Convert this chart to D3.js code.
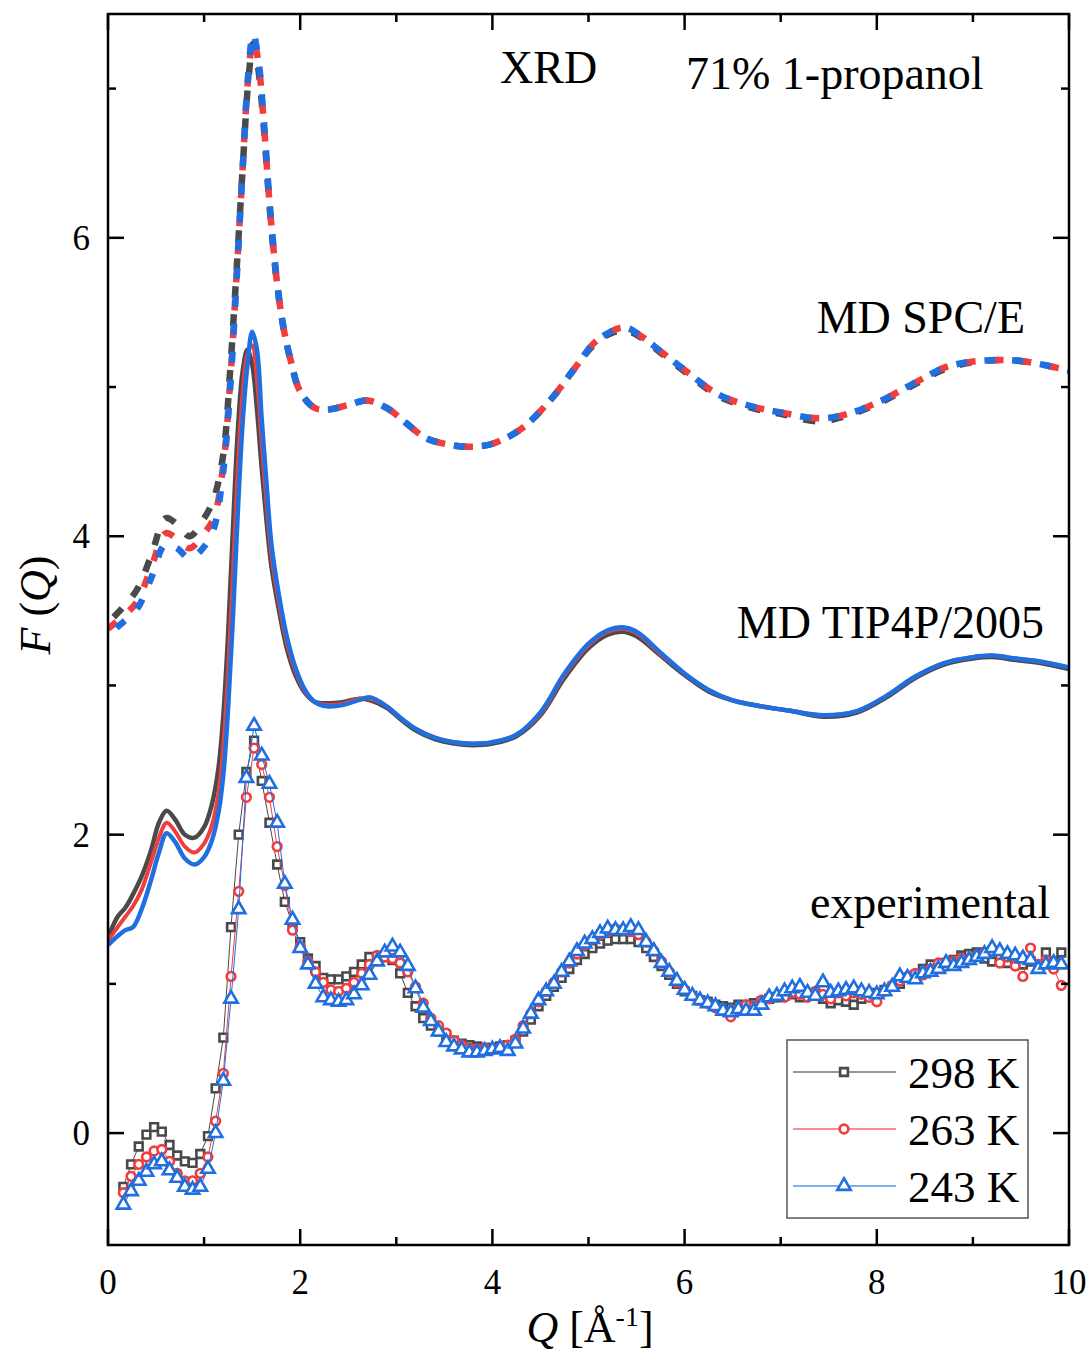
<!DOCTYPE html>
<html><head><meta charset="utf-8">
<script src="https://cdn.jsdelivr.net/npm/d3@7"></script>
<style>body{margin:0;background:#fff}svg{display:block}</style>
</head><body>
<svg id="chart" width="1092" height="1352"></svg>
<script>
// ---------- DATA ----------
const seriesNames = ["298 K", "263 K", "243 K"];
const seriesColors = ["#4a4a4a", "#f03e3e", "#1f6fe0"];

// MD SPC/E (dashed)
const spcQ = [0,0.15,0.3,0.45,0.6,0.72,0.85,1.0,1.1,1.2,1.27,1.33,1.4,1.46,1.51,1.56,1.62,1.68,1.75,1.82,1.9,2.0,2.15,2.3,2.5,2.7,2.9,3.1,3.3,3.5,3.75,4.0,4.3,4.6,4.85,5.05,5.2,5.38,5.55,5.75,6.05,6.35,6.7,7.0,7.4,7.7,8.05,8.4,8.75,9.2,9.55,10];
const spc298 = [3.42,3.52,3.64,3.87,4.12,4.08,4.00,4.12,4.25,4.55,5.10,5.70,6.45,7.05,7.30,7.15,6.75,6.22,5.74,5.42,5.18,4.97,4.86,4.85,4.88,4.91,4.86,4.76,4.66,4.62,4.60,4.62,4.72,4.91,5.12,5.28,5.35,5.38,5.33,5.23,5.08,4.94,4.86,4.82,4.77,4.81,4.90,5.02,5.13,5.18,5.17,5.11];
const spc263 = [3.38,3.46,3.56,3.79,4.02,3.98,3.92,4.02,4.12,4.48,5.02,5.66,6.45,7.08,7.33,7.20,6.78,6.24,5.75,5.42,5.18,4.97,4.86,4.85,4.88,4.91,4.86,4.76,4.66,4.62,4.60,4.62,4.72,4.91,5.12,5.29,5.36,5.40,5.34,5.24,5.09,4.95,4.87,4.83,4.79,4.82,4.91,5.03,5.14,5.18,5.17,5.11];
const spc243 = [3.34,3.42,3.51,3.72,3.95,3.92,3.85,3.93,4.05,4.44,4.98,5.62,6.45,7.10,7.37,7.22,6.80,6.25,5.76,5.42,5.18,4.97,4.86,4.85,4.88,4.91,4.86,4.76,4.66,4.62,4.60,4.62,4.72,4.91,5.12,5.29,5.36,5.40,5.34,5.24,5.09,4.95,4.87,4.83,4.79,4.82,4.91,5.03,5.14,5.18,5.17,5.11];

// MD TIP4P/2005 (solid)
const tipQ = [0,0.1,0.18,0.26,0.35,0.45,0.53,0.61,0.7,0.8,0.9,1.0,1.08,1.15,1.2,1.25,1.3,1.35,1.4,1.45,1.5,1.55,1.6,1.65,1.7,1.78,1.86,1.95,2.05,2.15,2.28,2.45,2.6,2.73,2.9,3.05,3.2,3.4,3.6,3.8,4.0,4.25,4.5,4.75,5.0,5.2,5.35,5.5,5.75,6.0,6.25,6.5,6.8,7.1,7.45,7.8,8.1,8.4,8.7,9.0,9.2,9.45,9.7,10.0];
const tip298 = [1.31,1.45,1.51,1.60,1.72,1.90,2.08,2.16,2.10,2.00,1.98,2.05,2.20,2.45,2.80,3.35,4.05,4.70,5.10,5.25,5.15,4.85,4.45,4.10,3.80,3.50,3.25,3.07,2.95,2.89,2.88,2.89,2.91,2.90,2.85,2.77,2.70,2.64,2.61,2.60,2.61,2.66,2.80,3.05,3.25,3.34,3.36,3.33,3.20,3.07,2.96,2.90,2.86,2.83,2.79,2.82,2.92,3.05,3.14,3.18,3.19,3.17,3.15,3.11];
const tip263 = [1.29,1.38,1.45,1.52,1.63,1.82,1.98,2.08,2.02,1.92,1.88,1.94,2.06,2.28,2.60,3.10,3.75,4.45,4.95,5.22,5.28,5.05,4.62,4.22,3.88,3.55,3.29,3.10,2.96,2.89,2.87,2.88,2.91,2.91,2.86,2.78,2.71,2.65,2.62,2.61,2.62,2.67,2.81,3.07,3.27,3.36,3.38,3.35,3.21,3.08,2.97,2.90,2.86,2.83,2.80,2.83,2.93,3.06,3.15,3.19,3.20,3.18,3.16,3.12];
const tip243 = [1.26,1.32,1.36,1.38,1.50,1.70,1.88,2.01,1.95,1.84,1.80,1.85,1.96,2.15,2.40,2.85,3.45,4.15,4.75,5.14,5.37,5.25,4.78,4.35,3.95,3.60,3.33,3.12,2.97,2.89,2.86,2.87,2.90,2.92,2.86,2.78,2.71,2.65,2.62,2.61,2.62,2.67,2.82,3.08,3.28,3.37,3.39,3.36,3.22,3.08,2.97,2.90,2.86,2.83,2.80,2.83,2.93,3.06,3.15,3.19,3.20,3.18,3.16,3.12];

// Experimental (markers)
const expQ = [0.16,0.24,0.32,0.40,0.48,0.56,0.64,0.72,0.80,0.88,0.96,1.04,1.12,1.20,1.28,1.36,1.44,1.52,1.60,1.68,1.76,1.84,1.92,2.00,2.08,2.16,2.24,2.32,2.40,2.48,2.56,2.64,2.72,2.80,2.88,2.96,3.04,3.12,3.20,3.28,3.36,3.44,3.52,3.60,3.68,3.76,3.84,3.92,4.00,4.08,4.16,4.24,4.32,4.40,4.48,4.56,4.64,4.72,4.80,4.88,4.96,5.04,5.12,5.20,5.28,5.36,5.44,5.52,5.60,5.68,5.76,5.84,5.92,6.00,6.08,6.16,6.24,6.32,6.40,6.48,6.56,6.64,6.72,6.80,6.88,6.96,7.04,7.12,7.20,7.28,7.36,7.44,7.52,7.60,7.68,7.76,7.84,7.92,8.00,8.08,8.16,8.24,8.32,8.40,8.48,8.56,8.64,8.72,8.80,8.88,8.96,9.04,9.12,9.20,9.28,9.36,9.44,9.52,9.60,9.68,9.76,9.84,9.92];
const exp298 = [-0.36,-0.21,-0.09,-0.01,0.04,0.01,-0.08,-0.15,-0.19,-0.20,-0.14,-0.02,0.30,0.64,1.38,2.00,2.42,2.63,2.36,2.08,1.80,1.55,1.40,1.28,1.17,1.12,1.04,1.03,1.03,1.05,1.08,1.13,1.18,1.18,1.18,1.16,1.07,0.94,0.85,0.77,0.72,0.68,0.64,0.62,0.60,0.59,0.58,0.57,0.57,0.58,0.59,0.62,0.68,0.76,0.85,0.92,0.98,1.04,1.10,1.16,1.20,1.24,1.27,1.29,1.30,1.30,1.30,1.28,1.24,1.18,1.12,1.06,1.00,0.95,0.92,0.89,0.88,0.86,0.85,0.84,0.86,0.85,0.87,0.88,0.90,0.91,0.92,0.93,0.91,0.93,0.92,0.90,0.87,0.89,0.88,0.86,0.90,0.92,0.94,0.96,0.98,1.00,1.04,1.06,1.10,1.13,1.12,1.14,1.16,1.19,1.20,1.21,1.17,1.15,1.18,1.14,1.16,1.13,1.15,1.12,1.21,1.15,1.21];
const exp263 = [-0.40,-0.29,-0.21,-0.16,-0.12,-0.11,-0.19,-0.27,-0.32,-0.32,-0.27,-0.16,0.08,0.40,1.05,1.62,2.25,2.58,2.47,2.25,1.92,1.66,1.36,1.25,1.15,1.08,1.01,0.96,0.95,0.97,1.01,1.07,1.13,1.19,1.18,1.17,1.14,1.08,0.98,0.87,0.77,0.72,0.67,0.62,0.59,0.57,0.56,0.57,0.56,0.57,0.59,0.63,0.72,0.80,0.88,0.95,1.01,1.08,1.14,1.20,1.26,1.30,1.33,1.35,1.37,1.36,1.35,1.33,1.28,1.22,1.15,1.08,1.01,0.96,0.92,0.89,0.87,0.84,0.82,0.78,0.84,0.86,0.85,0.89,0.90,0.92,0.91,0.94,0.93,0.91,0.95,0.93,0.90,0.94,0.92,0.94,0.93,0.91,0.88,0.95,0.99,1.02,1.05,1.07,1.06,1.10,1.14,1.12,1.15,1.17,1.16,1.19,1.21,1.22,1.14,1.18,1.12,1.05,1.24,1.13,1.16,1.10,0.99];
const exp243 = [-0.48,-0.39,-0.32,-0.26,-0.21,-0.19,-0.25,-0.30,-0.36,-0.38,-0.36,-0.24,0.00,0.35,0.90,1.50,2.38,2.73,2.53,2.34,2.08,1.67,1.43,1.24,1.13,1.00,0.91,0.89,0.88,0.89,0.93,0.99,1.06,1.15,1.21,1.25,1.21,1.12,0.97,0.84,0.75,0.68,0.61,0.58,0.56,0.54,0.54,0.55,0.56,0.57,0.55,0.60,0.70,0.80,0.89,0.95,1.00,1.08,1.15,1.22,1.27,1.30,1.34,1.37,1.36,1.36,1.38,1.36,1.28,1.22,1.14,1.08,1.02,0.96,0.92,0.89,0.87,0.85,0.82,0.81,0.83,0.82,0.82,0.86,0.91,0.92,0.95,0.97,0.98,0.94,0.92,1.01,0.94,0.95,0.96,0.97,0.95,0.94,0.93,0.95,0.98,1.05,1.04,1.03,1.07,1.08,1.10,1.14,1.12,1.14,1.16,1.18,1.20,1.24,1.22,1.20,1.19,1.17,1.16,1.10,1.13,1.14,1.13];

const xTicks = [0, 2, 4, 6, 8, 10];
const yTicks = [0, 2, 4, 6];

// ---------- CHART ----------
const svg = d3.select("#chart");
const L = 108, R = 1069, T = 14, B = 1245;
const x = d3.scaleLinear().domain([0, 10]).range([L, R]);
const y = d3.scaleLinear().domain([-0.75, 7.5]).range([B, T]);
const serif = "'Liberation Serif', 'Times New Roman', serif";

svg.append("defs").append("clipPath").attr("id", "clip")
  .append("rect").attr("x", L).attr("y", T).attr("width", R - L).attr("height", B - T);

const plot = svg.append("g").attr("clip-path", "url(#clip)");

function pts(qs, fs) { return qs.map((q, i) => [q, fs[i]]); }
const smooth = d3.line().x(d => x(d[0])).y(d => y(d[1])).curve(d3.curveCatmullRom.alpha(0.5));
const straight = d3.line().x(d => x(d[0])).y(d => y(d[1]));

// dashed SPC/E
const spcSets = [spc298, spc263, spc243];
const dashCfg = [{a: "12,16", o: -8}, {a: "11,17", o: 0}, {a: "11,17", o: -11}];
spcSets.forEach((s, i) => {
  plot.append("path").attr("d", smooth(pts(spcQ, s)))
    .attr("fill", "none").attr("stroke", seriesColors[i]).attr("stroke-width", 6.5)
    .attr("stroke-dasharray", dashCfg[i].a).attr("stroke-dashoffset", dashCfg[i].o);
});

// solid TIP4P/2005
[tip298, tip263, tip243].forEach((s, i) => {
  plot.append("path").attr("d", smooth(pts(tipQ, s)))
    .attr("fill", "none").attr("stroke", seriesColors[i]).attr("stroke-width", i === 1 ? 4 : 4.5);
});

// experimental
const sym = [d3.symbolSquare, d3.symbolCircle, d3.symbolTriangle];
const symSize = [60, 60, 78];
function drawMarker(g, i, cx, cy) {
  g.append("path").attr("d", d3.symbol().type(sym[i]).size(symSize[i])())
    .attr("transform", `translate(${cx},${cy})`)
    .attr("fill", "#fff").attr("stroke", seriesColors[i]).attr("stroke-width", 2.6);
}
[exp298, exp263, exp243].forEach((s, i) => {
  const data = pts(expQ, s);
  plot.append("path").attr("d", straight(data)).attr("fill", "none")
    .attr("stroke", seriesColors[i]).attr("stroke-width", 1);
  const g = plot.append("g");
  data.forEach(d => drawMarker(g, i, x(d[0]), y(d[1])));
});

// ---------- AXES / FRAME ----------
const ax = svg.append("g").attr("stroke", "#000").attr("stroke-width", 2.5);
ax.append("rect").attr("x", L).attr("y", T).attr("width", R - L).attr("height", B - T).attr("fill", "none");
const xMaj = xTicks, xMin = [1, 3, 5, 7, 9];
const yMaj = yTicks, yMin = [1, 3, 5, 7];
xMaj.forEach(v => {
  ax.append("line").attr("x1", x(v)).attr("x2", x(v)).attr("y1", B).attr("y2", B - 16);
  ax.append("line").attr("x1", x(v)).attr("x2", x(v)).attr("y1", T).attr("y2", T + 16);
});
xMin.forEach(v => {
  ax.append("line").attr("x1", x(v)).attr("x2", x(v)).attr("y1", B).attr("y2", B - 8);
  ax.append("line").attr("x1", x(v)).attr("x2", x(v)).attr("y1", T).attr("y2", T + 8);
});
yMaj.forEach(v => {
  ax.append("line").attr("x1", L).attr("x2", L + 16).attr("y1", y(v)).attr("y2", y(v));
  ax.append("line").attr("x1", R).attr("x2", R - 16).attr("y1", y(v)).attr("y2", y(v));
});
yMin.forEach(v => {
  ax.append("line").attr("x1", L).attr("x2", L + 8).attr("y1", y(v)).attr("y2", y(v));
  ax.append("line").attr("x1", R).attr("x2", R - 8).attr("y1", y(v)).attr("y2", y(v));
});

const tl = svg.append("g").attr("font-family", serif).attr("font-size", 35).attr("fill", "#000");
xTicks.forEach(v => tl.append("text").attr("x", x(v)).attr("y", 1294).attr("text-anchor", "middle").text(v));
yTicks.forEach(v => tl.append("text").attr("x", 90).attr("y", y(v) + 12).attr("text-anchor", "end").text(v));

// axis titles
const xt = svg.append("text").attr("x", 590).attr("y", 1342).attr("text-anchor", "middle")
  .attr("font-family", serif).attr("font-size", 44);
xt.append("tspan").attr("font-style", "italic").text("Q");
xt.append("tspan").text(" [Å");
xt.append("tspan").attr("font-size", 28).attr("dy", -16).text("-1");
xt.append("tspan").attr("dy", 16).text("]");

const yt = svg.append("text").attr("transform", "translate(50,605) rotate(-90)").attr("text-anchor", "middle")
  .attr("font-family", serif).attr("font-size", 44);
yt.append("tspan").attr("font-style", "italic").text("F");
yt.append("tspan").text(" (");
yt.append("tspan").attr("font-style", "italic").text("Q");
yt.append("tspan").text(")");

// annotations
const ann = svg.append("g").attr("font-family", serif).attr("font-size", 46).attr("fill", "#000");
ann.append("text").attr("x", 500).attr("y", 83).text("XRD");
ann.append("text").attr("x", 686).attr("y", 89).text("71% 1-propanol");
ann.append("text").attr("x", 1025).attr("y", 333).attr("text-anchor", "end").text("MD SPC/E");
ann.append("text").attr("x", 1044).attr("y", 638).attr("text-anchor", "end").text("MD TIP4P/2005");
ann.append("text").attr("x", 1050).attr("y", 918).attr("text-anchor", "end").text("experimental");

// legend
const lg = svg.append("g");
lg.append("rect").attr("x", 787).attr("y", 1040).attr("width", 241).attr("height", 178)
  .attr("fill", "#fff").attr("stroke", "#555").attr("stroke-width", 1.5);
seriesNames.forEach((n, i) => {
  const yy = 1072 + i * 57;
  lg.append("line").attr("x1", 793).attr("x2", 896).attr("y1", yy).attr("y2", yy)
    .attr("stroke", seriesColors[i]).attr("stroke-width", 1.3).attr("opacity", 0.75);
  drawMarker(lg, i, 844, yy);
  lg.append("text").attr("x", 908).attr("y", yy + 16).attr("font-family", serif)
    .attr("font-size", 45).text(n);
});
</script>
</body></html>
